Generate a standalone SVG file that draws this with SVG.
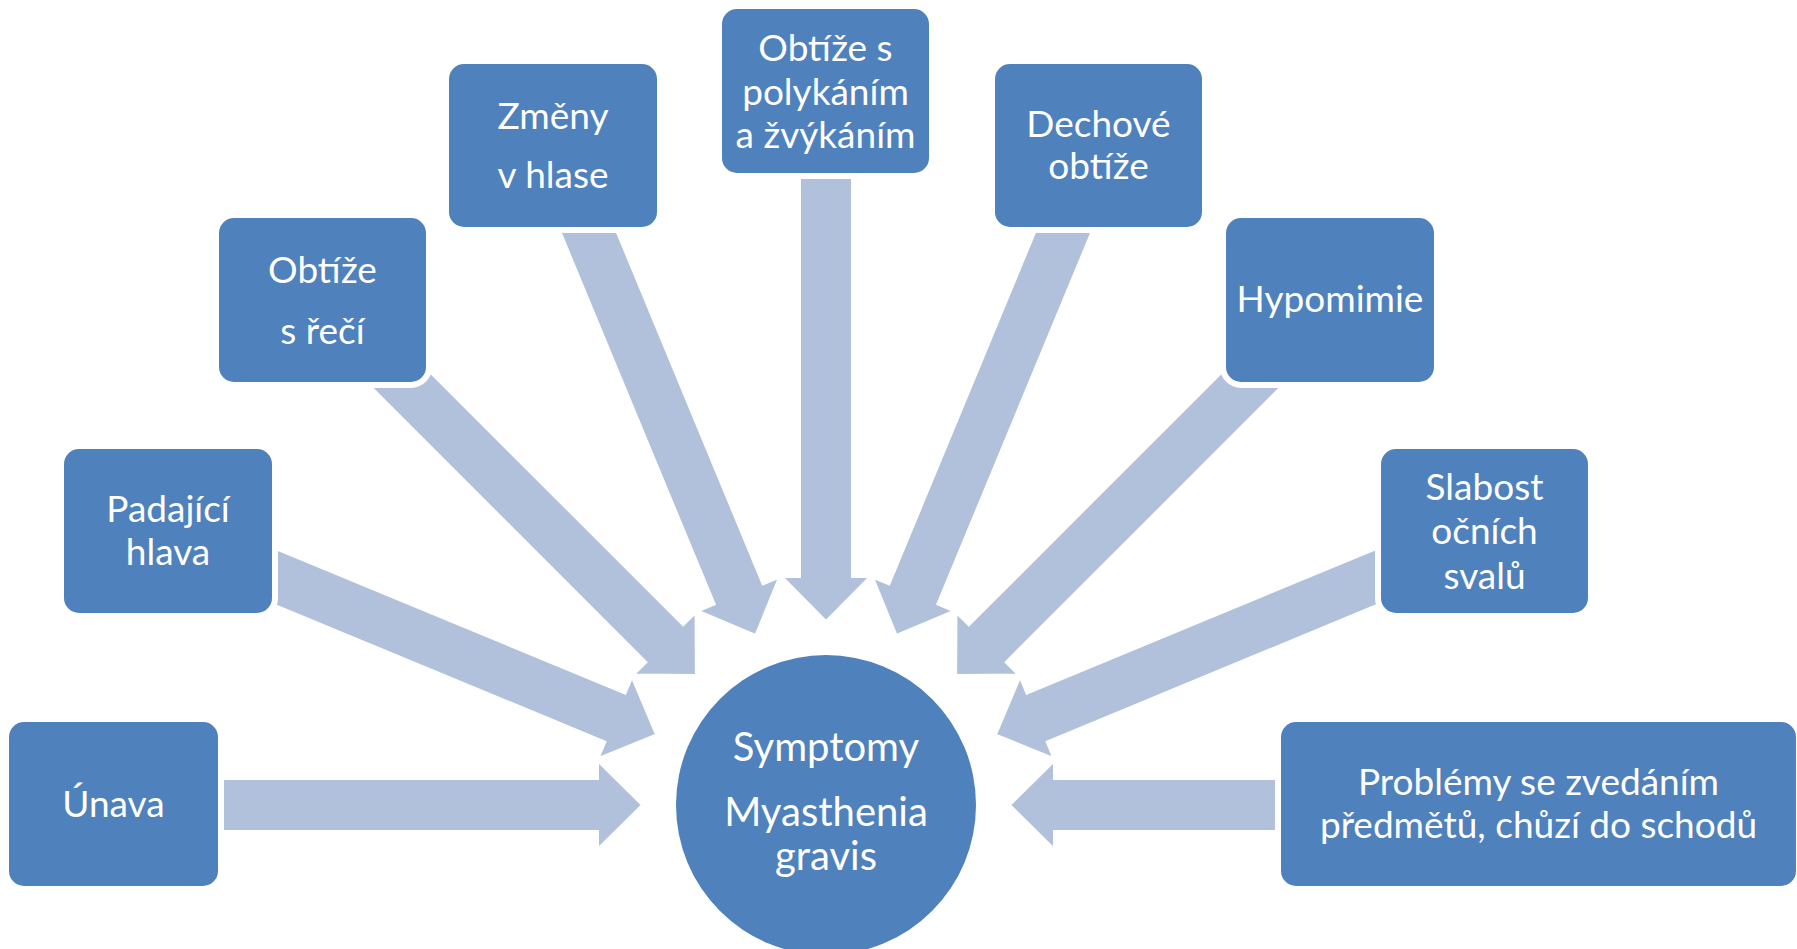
<svg xmlns="http://www.w3.org/2000/svg" width="1797" height="949" viewBox="0 0 1797 949">
<defs>
<style>
.arr{fill:#B1C1DC;stroke:#FFFFFF;stroke-width:2;stroke-linejoin:miter}
.halo{fill:#FFFFFF;stroke:#FFFFFF;stroke-width:12}
.box{fill:#4F81BD}
.t{font-family:Lato,"Liberation Sans",sans-serif;font-size:37px;fill:#FFFFFF;text-anchor:middle}
.tc{font-family:Lato,"Liberation Sans",sans-serif;font-size:40px;fill:#FFFFFF;text-anchor:middle}
</style>
</defs>
<rect width="1797" height="949" fill="#FFFFFF"/>
<g id="connectors">
<polygon class="arr" points="642,805 598,761.5 598,779 186,779 186,831 598,831 598,848.5"/>
<polygon class="arr" points="656.0,734.6 632.0,677.56 625.31,693.73 263.14,543.72 243.24,591.76 605.41,741.77 598.71,757.94"/>
<polygon class="arr" points="695.89,674.89 695.54,613.02 683.16,625.40 363.55,305.79 326.79,342.55 646.40,662.16 634.02,674.54"/>
<polygon class="arr" points="755.59,635.0 778.94,577.71 762.77,584.41 597.45,185.29 549.41,205.19 714.73,604.31 698.56,611.01"/>
<polygon class="arr" points="826,621 869.5,577 852,577 852,145 800,145 800,577 782.5,577"/>
<polygon class="arr" points="896.41,635.0 873.06,577.71 889.23,584.41 1054.55,185.29 1102.59,205.19 937.27,604.31 953.44,611.01"/>
<polygon class="arr" points="956.11,674.89 956.46,613.02 968.84,625.40 1288.45,305.79 1325.21,342.55 1005.60,662.16 1017.98,674.54"/>
<polygon class="arr" points="996.0,734.6 1020.0,677.56 1026.69,693.73 1388.86,543.72 1408.76,591.76 1046.59,741.77 1053.29,757.94"/>
<polygon class="arr" points="1010,805 1054,761.5 1054,779 1386,779 1386,831 1054,831 1054,848.5"/>
</g>
<g id="center">
<circle cx="826" cy="805" r="150" fill="#4F81BD"/>
<text class="tc" x="826" y="761">Symptomy</text>
<text class="tc" x="826" y="826">Myasthenia</text>
<text class="tc" x="826" y="870">gravis</text>
</g>
<g id="unava">
<rect class="halo" x="9" y="722" width="209" height="164" rx="15"/>
<rect class="box" x="9" y="722" width="209" height="164" rx="15"/>
<text class="t" x="113.5" y="817">Únava</text>
</g>
<g id="padajici-hlava">
<rect class="halo" x="64" y="449" width="208" height="164" rx="15"/>
<rect class="box" x="64" y="449" width="208" height="164" rx="15"/>
<text class="t" x="168" y="522">Padající</text>
<text class="t" x="168" y="565">hlava</text>
</g>
<g id="obtize-s-reci">
<rect class="halo" x="219" y="218" width="207" height="164" rx="15"/>
<rect class="box" x="219" y="218" width="207" height="164" rx="15"/>
<text class="t" x="322.5" y="283">Obtíže</text>
<text class="t" x="322.5" y="344">s řečí</text>
</g>
<g id="zmeny-v-hlase">
<rect class="halo" x="449" y="64" width="208" height="163" rx="15"/>
<rect class="box" x="449" y="64" width="208" height="163" rx="15"/>
<text class="t" x="553" y="129">Změny</text>
<text class="t" x="553" y="188">v hlase</text>
</g>
<g id="obtize-s-polykanim">
<rect class="halo" x="722" y="9" width="207" height="164" rx="15"/>
<rect class="box" x="722" y="9" width="207" height="164" rx="15"/>
<text class="t" x="825.5" y="61">Obtíže s</text>
<text class="t" x="825.5" y="105">polykáním</text>
<text class="t" x="825.5" y="148">a žvýkáním</text>
</g>
<g id="dechove-obtize">
<rect class="halo" x="995" y="64" width="207" height="163" rx="15"/>
<rect class="box" x="995" y="64" width="207" height="163" rx="15"/>
<text class="t" x="1098.5" y="137">Dechové</text>
<text class="t" x="1098.5" y="179">obtíže</text>
</g>
<g id="hypomimie">
<rect class="halo" x="1226" y="218" width="208" height="164" rx="15"/>
<rect class="box" x="1226" y="218" width="208" height="164" rx="15"/>
<text class="t" x="1330" y="312">Hypomimie</text>
</g>
<g id="slabost-ocnich-svalu">
<rect class="halo" x="1381" y="449" width="207" height="164" rx="15"/>
<rect class="box" x="1381" y="449" width="207" height="164" rx="15"/>
<text class="t" x="1484.5" y="500">Slabost</text>
<text class="t" x="1484.5" y="544">očních</text>
<text class="t" x="1484.5" y="589">svalů</text>
</g>
<g id="problemy">
<rect class="halo" x="1281" y="722" width="515" height="164" rx="15"/>
<rect class="box" x="1281" y="722" width="515" height="164" rx="15"/>
<text class="t" x="1538.5" y="795">Problémy se zvedáním</text>
<text class="t" x="1538.5" y="838">předmětů, chůzí do schodů</text>
</g>
</svg>
